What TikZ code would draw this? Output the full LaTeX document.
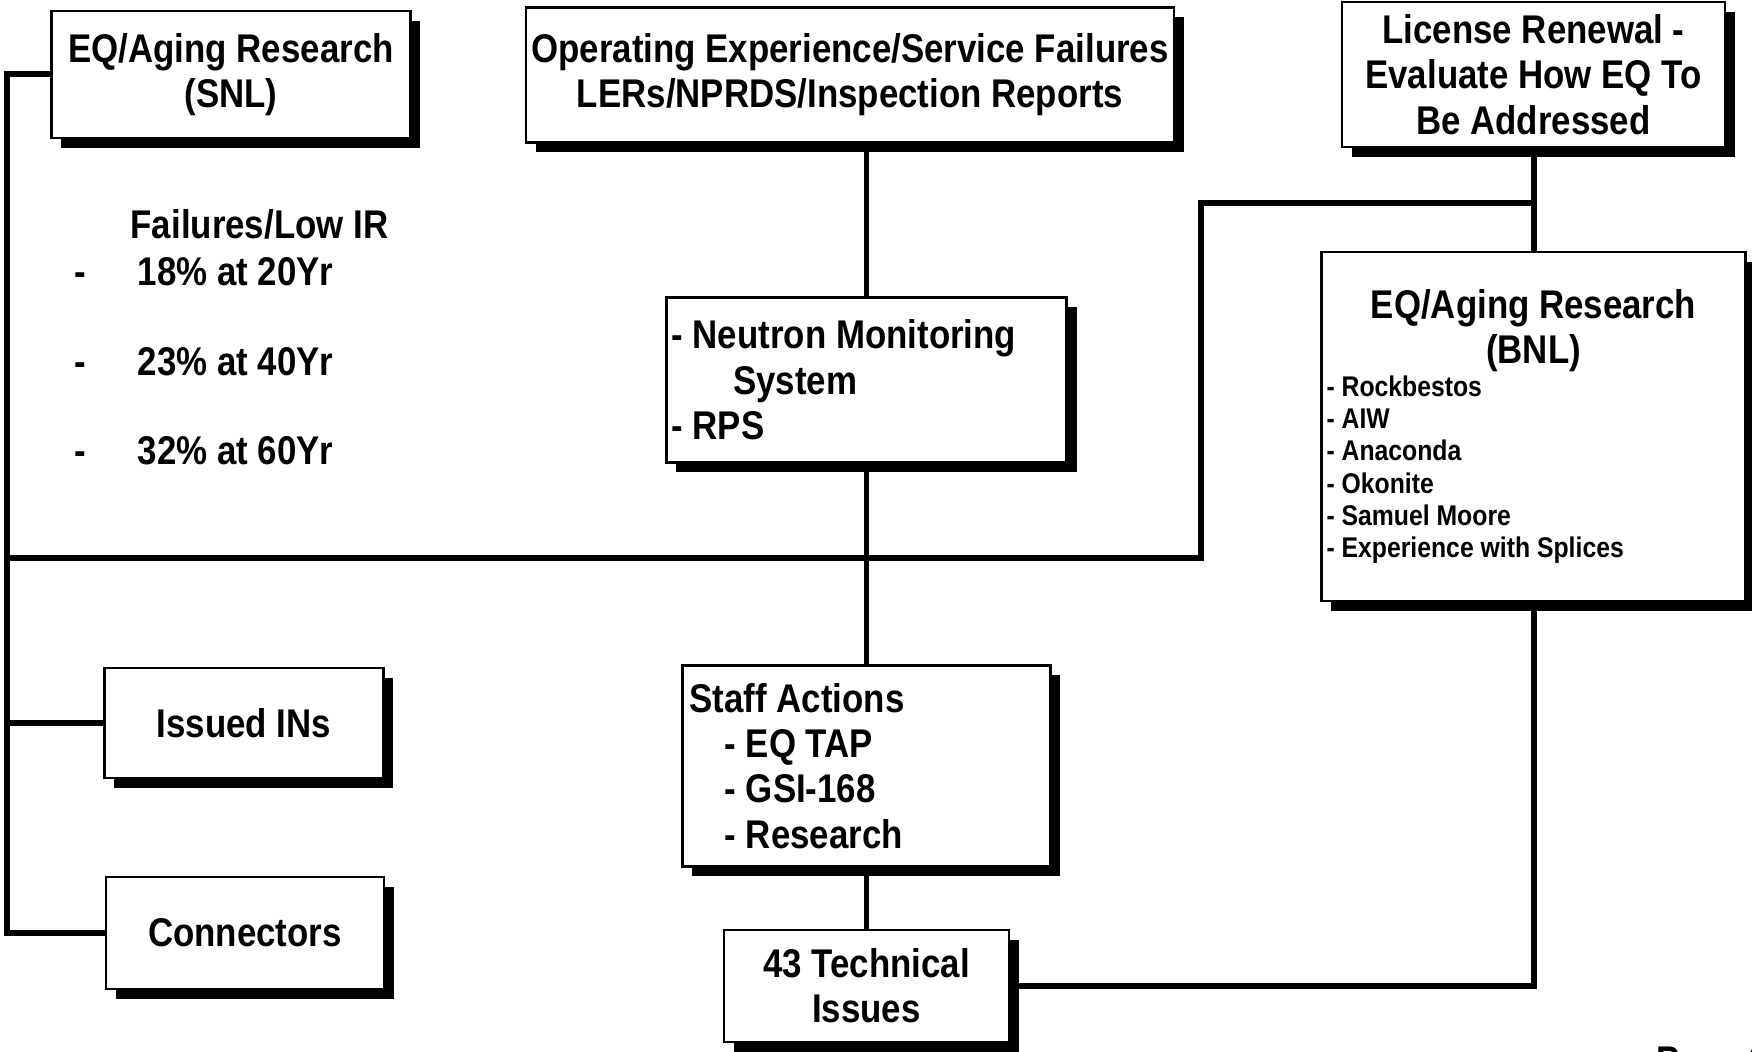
\documentclass[tikz,border=0pt]{standalone}
\usepackage{fontspec}
\setmainfont{Liberation Sans}[FakeStretch=0.87]
\usetikzlibrary{shadows}
\newcommand{\bnlsize}{\fontsize{8.1}{9.2}\selectfont}

\begin{document}
\begin{tikzpicture}
    [font=\bfseries\fontsize{11.4}{12.9}\selectfont,
     box/.style={draw, line width=0.8pt, fill=white, inner sep=1.5pt, drop shadow={shadow xshift=2.8pt, shadow yshift=-2.8pt, fill=black, opacity=1}},
     link/.style={line width=1.7pt},
     txt/.style={inner sep=0pt, text height=8.2pt, text depth=0pt}]
    \path[fill=white, use as bounding box] (0,0) rectangle (17.52,10.52);
    \begin{scope}
    \node[box, minimum width=3.59cm, minimum height=1.27cm, align=center] (snl) at (2.31,9.775) {EQ/Aging Research\\(SNL)};
    \node[box, minimum width=6.37cm, minimum height=1.35cm, align=center] (oper) at (8.50,9.77) {Operating Experience/Service Failures\\LERs/NPRDS/Inspection Reports};
    \node[box, minimum width=3.83cm, minimum height=1.45cm, align=center] (licence) at (15.335,9.775) {License Renewal -\\Evaluate How EQ To\\Be Addressed};
    \node[box, text width=3.9cm, minimum height=1.65cm, align=flush left] (neutron) at (8.665,6.72) {- Neutron Monitoring\\\hspace*{17.6pt}System\\- RPS};
    \node[box, text width=4.14cm, minimum height=3.49cm, align=flush left] (bnl) at (15.335,6.255)
        {{\centering EQ/Aging Research\\(BNL)\par}
         {\bnlsize\raggedright - Rockbestos\\- AIW\\- Anaconda\\- Okonite\\- Samuel Moore\\- Experience with Splices\par}};
    \node[box, minimum width=2.79cm, minimum height=1.10cm] (issued) at (2.44,3.29) {Issued INs};
    \node[box, minimum width=2.78cm, minimum height=1.12cm] (conn) at (2.45,1.19) {Connectors};
    \node[box, inner xsep=2pt, text width=3.54cm, minimum height=2.01cm, align=flush left] (staff) at (8.665,2.86) {Staff Actions\\\hspace*{10pt}- EQ TAP\\\hspace*{10pt}- GSI-168\\\hspace*{10pt}- Research};
    \node[box, minimum width=2.85cm, minimum height=1.12cm, align=center] (tech) at (8.665,0.66) {43 Technical\\Issues};
    \end{scope}

    \node[txt] (fail) at (2.595,8.274) {Failures/Low IR};
    \node[txt] (d1) at (0.80,7.805) {-};
    \node[txt] (d2) at (0.80,6.91) {-};
    \node[txt] (d3) at (0.80,6.02) {-};
    \node[txt, anchor=west] (p1) at (1.37,7.805) {18\% at 20Yr};
    \node[txt, anchor=west] (p2) at (1.37,6.91) {23\% at 40Yr};
    \node[txt, anchor=west] (p3) at (1.37,6.02) {32\% at 60Yr};
    \node[txt, anchor=north west] (page) at (16.56,0.07) {Page 9};

    \coordinate (railtop) at (0.07,9.775);
    \coordinate (railbot) at (0.07,1.19);
    \coordinate (crossR) at (12.01,8.49);
    \coordinate (crossL) at (12.01,4.94);
    \draw[link] (snl.west) -- (railtop) -- (railbot) -- (conn.west);
    \draw[link] (issued.west) -- (issued.west -| railtop);
    \draw[link] (licence.south) -- (bnl.north);
    \draw[link] (licence.south |- crossR) -- (crossR) -- (crossL) -- (railtop |- crossL);
    \draw[link] (neutron.north) -- (neutron.north |- oper.south);
    \draw[link] (neutron.south) -- (staff.north);
    \draw[link] (staff.south) -- (tech.north);
    \draw[link] (tech.east) -| (bnl.south);
\end{tikzpicture}
\end{document}
